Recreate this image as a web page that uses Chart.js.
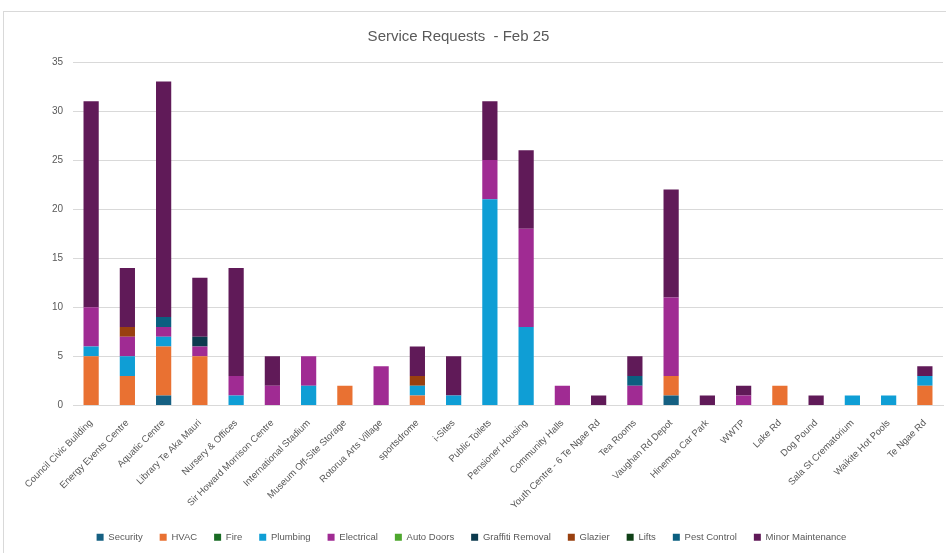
<!DOCTYPE html>
<html><head><meta charset="utf-8">
<script src="https://cdn.jsdelivr.net/npm/chart.js@4"></script>
<style>
html,body{margin:0;padding:0;background:#fff;overflow:hidden}
#wrap{position:absolute;left:0;top:0;width:946px;height:553px}
#frame{position:absolute;left:3px;top:11px;width:960px;height:560px;border:1px solid #d9d9d9;box-sizing:border-box;pointer-events:none}
canvas{position:absolute;left:0;top:0}
</style></head>
<body>
<div id="wrap"><canvas id="c" width="946" height="553"></canvas><div id="frame"></div></div>
<script>
const categories = ["Council Civic Building","Energy Events Centre","Aquatic Centre","Library Te Aka Mauri","Nursery & Offices","Sir Howard Morrison Centre","International Stadium","Museum Off-Site Storage","Rotorua Arts Village","sportsdrome","i-Sites","Public Toilets","Pensioner Housing","Community Halls","Youth Centre - 6 Te Ngae Rd","Tea Rooms","Vaughan Rd Depot","Hinemoa Car Park","WWTP","Lake Rd","Dog Pound","Sala St Crematorium","Waikite Hot Pools","Te Ngae Rd"];
const security    = [0,0,1,0,0,0,0,0,0,0,0,0,0,0,0,0,1,0,0,0,0,0,0,0];
const hvac        = [5,3,5,5,0,0,0,2,0,1,0,0,0,0,0,0,2,0,0,2,0,0,0,2];
const fire        = [0,0,0,0,0,0,0,0,0,0,0,0,0,0,0,0,0,0,0,0,0,0,0,0];
const plumbing    = [1,2,1,0,1,0,2,0,0,1,1,21,8,0,0,0,0,0,0,0,0,1,1,1];
const electrical  = [4,2,1,1,2,2,3,0,4,0,0,4,10,2,0,2,8,0,1,0,0,0,0,0];
const autoDoors   = [0,0,0,0,0,0,0,0,0,0,0,0,0,0,0,0,0,0,0,0,0,0,0,0];
const graffiti    = [0,0,0,1,0,0,0,0,0,0,0,0,0,0,0,0,0,0,0,0,0,0,0,0];
const glazier     = [0,1,0,0,0,0,0,0,0,1,0,0,0,0,0,0,0,0,0,0,0,0,0,0];
const lifts       = [0,0,0,0,0,0,0,0,0,0,0,0,0,0,0,0,0,0,0,0,0,0,0,0];
const pestControl = [0,0,1,0,0,0,0,0,0,0,0,0,0,0,0,1,0,0,0,0,0,0,0,0];
const minorMaint  = [21,6,24,6,11,3,0,0,0,3,4,6,8,0,1,2,11,1,1,0,1,0,0,1];
const yTicks = [0,5,10,15,20,25,30,35];

const series = [
  ["Security", security, "#156082"],
  ["HVAC", hvac, "#E97132"],
  ["Fire", fire, "#196B24"],
  ["Plumbing", plumbing, "#0F9ED5"],
  ["Electrical", electrical, "#A02B93"],
  ["Auto Doors", autoDoors, "#4EA72E"],
  ["Graffiti Removal", graffiti, "#0C3A4E"],
  ["Glazier", glazier, "#99400F"],
  ["Lifts", lifts, "#0F4016"],
  ["Pest Control", pestControl, "#0B5F80"],
  ["Minor Maintenance", minorMaint, "#601A58"]
];
const FONT = "'Liberation Sans',Arial,sans-serif";
const titleShift = {
  id: 'titleShift',
  afterLayout(chart) {
    const t = chart.titleBlock;
    if (t) { t.left -= 13; t.right -= 13; }
  }
};
new Chart(document.getElementById('c'), {
  type: 'bar',
  data: {
    labels: categories,
    datasets: series.map(s => ({label: s[0], data: s[1], backgroundColor: s[2], borderWidth: 0, barPercentage: 0.42, categoryPercentage: 1}))
  },
  plugins: [titleShift],
  options: {
    responsive: false,
    animation: false,
    devicePixelRatio: 1,
    layout: {padding: {left: 0, right: 3, top: 28, bottom: 1}},
    plugins: {
      title: {display: true, text: "Service Requests  - Feb 25", color: "#595959",
              font: {family: FONT, size: 15, weight: 'normal'}, padding: {top: 0, bottom: 16}},
      legend: {position: 'bottom', labels: {boxWidth: 7, boxHeight: 7, padding: 17, color: "#595959",
              font: {family: FONT, size: 9.5}}},
      tooltip: {enabled: false}
    },
    scales: {
      x: {stacked: true, grid: {display: false}, border: {color: "#d9d9d9"},
          ticks: {color: "#595959", font: {family: FONT, size: 9.5}, minRotation: 45, maxRotation: 45, padding: 4}},
      y: {stacked: true, min: 0, max: 35,
          afterBuildTicks: a => { a.ticks = yTicks.map(v => ({value: v})); },
          afterFit: s => { s.width = 73; },
          grid: {color: "#d9d9d9", drawTicks: false},
          border: {display: false},
          ticks: {color: "#595959", font: {family: FONT, size: 10}, padding: 10}}
    }
  }
});
</script>
</body></html>
